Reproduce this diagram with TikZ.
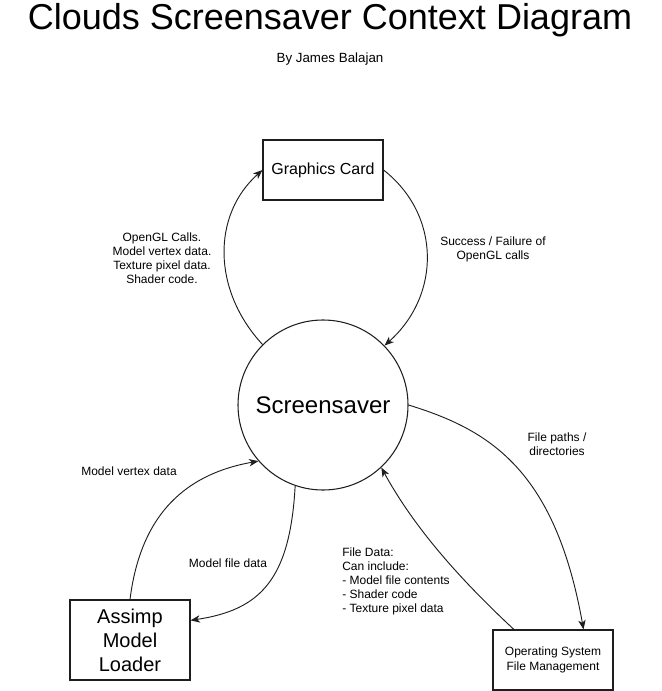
\documentclass[tikz,border=0pt]{standalone}
\usepackage{fontspec}
\setmainfont{Liberation Sans}
\usetikzlibrary{positioning,arrows.meta}
\definecolor{linegray}{RGB}{30, 30, 30}

\begin{document}
\begin{tikzpicture}[x=0.75pt, y=-0.75pt,
    box/.style={draw=linegray, line width=0.8pt, fill=white, inner sep=0pt, align=center},
    lbl/.style={font=\fontsize{9}{10.5}\selectfont, align=center, inner sep=0pt},
    flow/.style={draw=linegray, line width=0.7pt, -{Stealth[length=7pt, width=5.5pt, inset=2pt]}}]
    \useasboundingbox (0,0) rectangle (661,691);

    % Title
    \node (title) at (330,20) {\fontsize{27}{30}\selectfont Clouds Screensaver Context Diagram};
    \node (author) at (330,59) {\fontsize{10}{12}\selectfont By James Balajan};

    % Entities
    \node[box, minimum width=90pt, minimum height=45pt, font=\fontsize{12}{14}\selectfont] (gpu) at (323,170) {Graphics Card};
    \node[draw=linegray, line width=0.8pt, circle, minimum size=127.5pt, inner sep=0pt, font=\fontsize{18}{20}\selectfont] (saver) at (323,405) {Screensaver};
    \node[box, minimum width=90pt, minimum height=60pt, font=\fontsize{15}{18}\selectfont] (assimp) at (130,640) {Assimp\\Model\\Loader};
    \node[box, minimum width=90pt, minimum height=45pt, font=\fontsize{9}{11}\selectfont] (os) at (553,660) {Operating System\\File Management};

    % Flows between screensaver and graphics card
    \draw[flow] (saver.135) .. controls (212,290) and (212,215) .. (gpu.west);
    \draw[flow] (gpu.east) .. controls (441,215) and (441,295) .. (saver.44);

    % Flows between screensaver and OS
    \draw[flow] (saver.east) .. controls (490,430) and (555,470) .. (os.45);
    \draw[flow] (os.142) .. controls (450,570) and (410,520) .. (saver.-47);

    % Flows between screensaver and Assimp
    \draw[flow] (assimp.north) .. controls (140,520) and (180,475) .. (saver.221);
    \draw[flow] (saver.251) .. controls (290,580) and (260,610) .. (assimp.18);

    % Labels
    \node[lbl] (glcalls) at (162,258) {OpenGL Calls.\\Model vertex data.\\Texture pixel data.\\Shader code.};
    \node[lbl] (glresult) at (493,249) {Success / Failure of\\OpenGL calls};
    \node[lbl] (paths) at (557,444) {File paths /\\directories};
    \node[lbl] (vertex) at (129,471) {Model vertex data};
    \node[lbl] (modelfile) at (228,563) {Model file data};
    \node[lbl, align=left, anchor=west] (filedata) at (342,581) {File Data:\\Can include:\\- Model file contents\\- Shader code\\- Texture pixel data};
\end{tikzpicture}
\end{document}
